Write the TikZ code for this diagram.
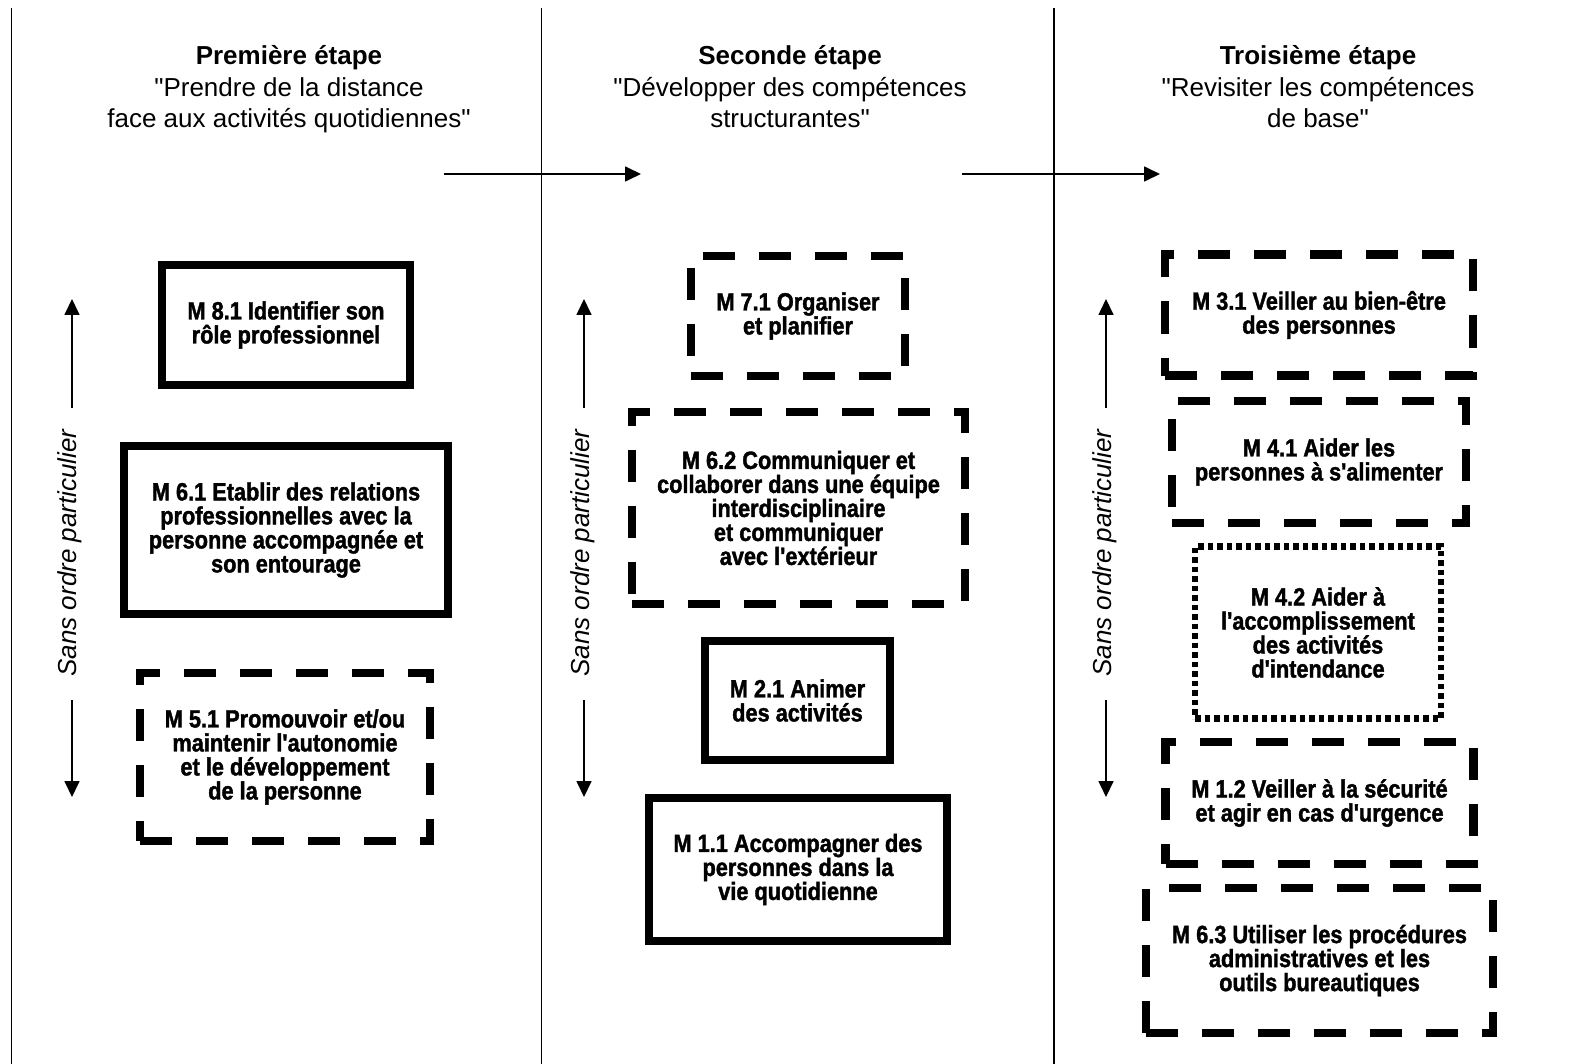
\documentclass[tikz,border=0pt]{standalone}
\usepackage{fontspec}
\setmainfont{Liberation Sans}
\newfontfamily\boxfont[FakeStretch=0.87,BoldFeatures={FakeBold=1.5}]{Liberation Sans}
\usetikzlibrary{arrows.meta}
\begin{document}
\begin{tikzpicture}[x=1pt,y=-1pt,
  sep/.style={line width=1.7pt},
  harrow/.style={line width=1.7pt,-{Triangle[length=16pt,width=15pt]}},
  heading/.style={align=center,inner sep=0pt,font=\fontsize{26}{31.5}\selectfont},
  sideline/.style={rotate=90,inner sep=0pt,font=\itshape\fontsize{26}{30}\selectfont},
  mbox/.style={align=center,inner sep=0pt,font=\boxfont\bfseries\fontsize{25}{24}\selectfont},
  solidbox/.style={mbox,draw,line width=8pt},
  dashbox/.style={mbox,draw,line width=8.5pt,dash pattern=on 32pt off 24pt},
  dotbox/.style={mbox,draw,line width=6.5pt,dash pattern=on 5.5pt off 4pt}
]
\useasboundingbox (0,0) rectangle (1570,1064);

% separators
\coordinate (s1t) at (11.5,8);   \coordinate (s1b) at (11.5,1064);
\coordinate (s2t) at (541.5,8);  \coordinate (s2b) at (541.5,1064);
\coordinate (s3t) at (1054,8);   \coordinate (s3b) at (1054,1064);
\draw[sep] (s1t) -- (s1b);
\draw[sep] (s2t) -- (s2b);
\draw[sep] (s3t) -- (s3b);

% headings
\node[heading] (h1) at (289,89.5) {\textbf{Première étape}\\\textquotedbl Prendre de la distance\\face aux activités quotidiennes\textquotedbl};
\node[heading] (h2) at (790,87) {\textbf{Seconde étape}\\\textquotedbl Développer des compétences\\structurantes\textquotedbl};
\node[heading] (h3) at (1318,87) {\textbf{Troisième étape}\\\textquotedbl Revisiter les compétences\\de base\textquotedbl};

% horizontal arrows
\coordinate (a1s) at (444,174); \coordinate (a1e) at (641,174);
\coordinate (a2s) at (962,174); \coordinate (a2e) at (1160,174);
\draw[harrow] (a1s) -- (a1e);
\draw[harrow] (a2s) -- (a2e);

% side labels and arrows
\node[sideline] (o1) at (70,553) {Sans ordre particulier};
\node[sideline] (o2) at (583,553) {Sans ordre particulier};
\node[sideline] (o3) at (1105,553) {Sans ordre particulier};
\coordinate (u1s) at (72,408); \coordinate (u1e) at (72,299);
\coordinate (d1s) at (72,700); \coordinate (d1e) at (72,797);
\coordinate (u2s) at (584,408); \coordinate (u2e) at (584,299);
\coordinate (d2s) at (584,700); \coordinate (d2e) at (584,797);
\coordinate (u3s) at (1106,408); \coordinate (u3e) at (1106,299);
\coordinate (d3s) at (1106,700); \coordinate (d3e) at (1106,797);
\draw[harrow] (u1s) -- (u1e);
\draw[harrow] (d1s) -- (d1e);
\draw[harrow] (u2s) -- (u2e);
\draw[harrow] (d2s) -- (d2e);
\draw[harrow] (u3s) -- (u3e);
\draw[harrow] (d3s) -- (d3e);

% column 1
\node[solidbox,minimum width=248pt,minimum height=120pt] (m81) at (286,325) {M 8.1 Identifier son\\rôle professionnel};
\node[solidbox,minimum width=324pt,minimum height=168pt] (m61) at (286,530) {M 6.1 Etablir des relations\\professionnelles avec la\\personne accompagnée et\\son entourage};
\node[dashbox,minimum width=290pt,minimum height=168pt] (m51) at (285,757) {M 5.1 Promouvoir et/ou\\maintenir l'autonomie\\et le développement\\de la personne};

% column 2
\node[dashbox,minimum width=214pt,minimum height=120pt] (m71) at (798,316) {M 7.1 Organiser\\et planifier};
\node[dashbox,minimum width=333pt,minimum height=192pt] (m62) at (798.5,508) {M 6.2 Communiquer et\\collaborer dans une équipe\\interdisciplinaire\\et communiquer\\avec l'extérieur};
\node[solidbox,minimum width=185pt,minimum height=119pt] (m21) at (797.5,700.5) {M 2.1 Animer\\des activités};
\node[solidbox,minimum width=298pt,minimum height=143pt] (m11) at (798,869.5) {M 1.1 Accompagner des\\personnes dans la\\vie quotidienne};

% column 3
\node[dashbox,minimum width=308pt,minimum height=121pt] (m31) at (1319,315) {M 3.1 Veiller au bien-être\\des personnes};
\node[dashbox,minimum width=294pt,minimum height=122pt] (m41) at (1319,462) {M 4.1 Aider les\\personnes à s'alimenter};
\node[dotbox,minimum width=246pt,minimum height=172pt] (m42) at (1318,632.5) {M 4.2 Aider à\\l'accomplissement\\des activités\\d'intendance};
\node[dashbox,minimum width=308pt,minimum height=122pt] (m12) at (1319.5,803) {M 1.2 Veiller à la sécurité\\et agir en cas d'urgence};
\node[dashbox,minimum width=347pt,minimum height=145pt] (m63) at (1319.5,960.5) {M 6.3 Utiliser les procédures\\administratives et les\\outils bureautiques};
\end{tikzpicture}
\end{document}
